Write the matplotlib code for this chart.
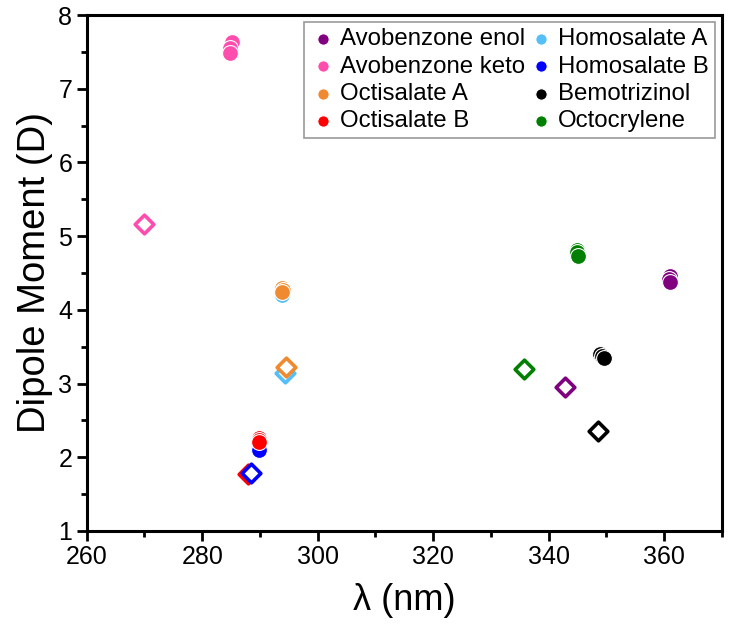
import matplotlib.pyplot as plt
from matplotlib.ticker import MultipleLocator
from matplotlib import font_manager

plt.rcParams['font.family'] = ['Liberation Sans', 'DejaVu Sans']

# compounds (legend order, column-major)
names = ['Avobenzone enol', 'Avobenzone keto', 'Octisalate A', 'Octisalate B',
         'Homosalate A', 'Homosalate B', 'Bemotrizinol', 'Octocrylene']
colors = ['#800080', '#FF4DAD', '#F08A30', '#FF0000',
          '#55BFF7', '#0000FF', '#000000', '#008000']

# filled circles: several conformers per compound
circ_x = [[361.0, 360.8, 361.0],
          [285.1, 284.8, 284.9],
          [293.8, 294.0, 293.9],
          [289.8, 289.8, 289.9],
          [293.7, 293.8],
          [289.8, 289.9],
          [349.0, 349.2, 349.6],
          [345.0, 345.0, 345.1]]
circ_y = [[4.46, 4.42, 4.38],
          [7.64, 7.55, 7.48],
          [4.29, 4.27, 4.24],
          [2.26, 2.23, 2.21],
          [4.22, 4.20],
          [2.12, 2.10],
          [3.40, 3.37, 3.34],
          [4.81, 4.78, 4.73]]

# open diamonds: one per compound
dia_x = [342.8, 269.9, 294.5, 287.9, 294.4, 288.5, 348.6, 335.7]
dia_y = [2.95, 5.17, 3.23, 1.77, 3.14, 1.79, 2.36, 3.20]

# drawing order so overlaps look right
draw_order = [0, 1, 4, 2, 5, 3, 6, 7]
dia_order = [0, 1, 3, 5, 4, 2, 6, 7]

# narrow face for tick numbers if it is there
names_installed = {f.name for f in font_manager.fontManager.ttflist}
tick_family = 'Liberation Sans Narrow' if 'Liberation Sans Narrow' in names_installed else 'Liberation Sans'

fig = plt.figure(figsize=(7.29, 6.29), dpi=100)
ax = fig.add_axes([0.119, 0.156, 0.871, 0.820])

handles = {}
for i in draw_order:
    h = ax.scatter(circ_x[i], circ_y[i], s=130, color=colors[i],
                   edgecolors='white', linewidths=0.8, label=names[i], zorder=3)
    handles[i] = h
for i in dia_order:
    ax.scatter(dia_x[i], dia_y[i], s=90, marker='D', facecolors='white',
               edgecolors=colors[i], linewidths=2.6, zorder=4)

ax.set_xlim(260, 370)
ax.set_ylim(1, 8)
ax.xaxis.set_major_locator(MultipleLocator(20))
ax.xaxis.set_minor_locator(MultipleLocator(10))
ax.yaxis.set_major_locator(MultipleLocator(1))
ax.yaxis.set_minor_locator(MultipleLocator(0.5))
ax.tick_params(which='major', direction='out', length=7, width=2, labelsize=18)
ax.tick_params(which='minor', direction='out', length=4, width=2)
for lab in ax.get_xticklabels() + ax.get_yticklabels():
    lab.set_family(tick_family)
for sp in ax.spines.values():
    sp.set_linewidth(2.2)

ax.set_xlabel('λ (nm)', fontsize=26, labelpad=10)
ax.set_ylabel('Dipole Moment (D)', fontsize=27.5, labelpad=4)

leg = ax.legend([handles[i] for i in range(8)], names, ncol=2, loc='upper right',
                fontsize=17.3, frameon=True, fancybox=False, edgecolor='#808080',
                handletextpad=0.15, columnspacing=0.1, handlelength=1.1,
                labelspacing=0.22, borderpad=0.25, borderaxespad=0.3,
                markerscale=0.72)
leg.get_frame().set_linewidth(1.2)

fig.savefig('out.png', dpi=100)
